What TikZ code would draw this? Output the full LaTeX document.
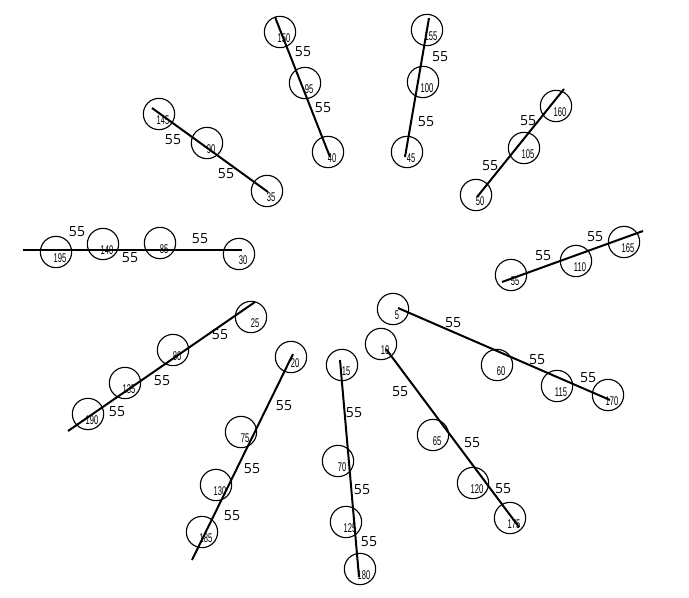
\documentclass[tikz,border=0pt]{standalone}
\usepackage{fontspec}
\setmainfont{Open Sans}
\newfontfamily\narrowfont[FakeStretch=0.6]{Liberation Sans}
\tikzset{
  ring/.style={circle, draw, line width=0.85pt, minimum size=23.5pt, inner sep=0pt},
  rod/.style={line width=1.5pt},
  num/.style={font=\narrowfont\fontsize{9.5}{9.5}\selectfont, inner sep=0pt},
  dist/.style={font=\fontsize{10.5}{12}\selectfont, inner sep=0pt}
}
\newcommand{\ringnode}[4]{\node[ring] (c#1) at (#2,#3) {};\node[num] (t#1) at (#2+4,#3+6) {#4};}
\begin{document}
\begin{tikzpicture}[x=0.75pt,y=-0.75pt]
\useasboundingbox (0,0) rectangle (689,597);
% group 5
\coordinate (a5) at (398,308); \coordinate (b5) at (610,400);
\draw[rod] (a5) -- (b5);
\ringnode{5}{393}{309}{5}\ringnode{60}{497}{365}{60}\ringnode{115}{557}{386}{115}\ringnode{170}{608}{395}{170}
\node[dist] (d5a) at (453,323) {55};\node[dist] (d5b) at (537,360) {55};\node[dist] (d5c) at (588,378) {55};
% group 10
\coordinate (a10) at (386,349); \coordinate (b10) at (519,527);
\draw[rod] (a10) -- (b10);
\ringnode{10}{381}{344}{10}\ringnode{65}{433}{435}{65}\ringnode{120}{473}{483}{120}\ringnode{175}{510}{518}{175}
\node[dist] (d10a) at (400,392) {55};\node[dist] (d10b) at (472,443) {55};\node[dist] (d10c) at (503,489) {55};
% group 15
\coordinate (a15) at (340,360); \coordinate (b15) at (359,577);
\draw[rod] (a15) -- (b15);
\ringnode{15}{342}{365}{15}\ringnode{70}{338}{461}{70}\ringnode{125}{346}{522}{125}\ringnode{180}{360}{569}{180}
\node[dist] (d15a) at (354,413) {55};\node[dist] (d15b) at (362,490) {55};\node[dist] (d15c) at (369,542) {55};
% group 20
\coordinate (a20) at (293,354); \coordinate (b20) at (192,560);
\draw[rod] (a20) -- (b20);
\ringnode{20}{291}{357}{20}\ringnode{75}{241}{432}{75}\ringnode{130}{216}{485}{130}\ringnode{185}{202}{532}{185}
\node[dist] (d20a) at (284,406) {55};\node[dist] (d20b) at (252,469) {55};\node[dist] (d20c) at (232,516) {55};
% group 25
\coordinate (a25) at (255,302); \coordinate (b25) at (68,431);
\draw[rod] (a25) -- (b25);
\ringnode{25}{251}{317}{25}\ringnode{80}{173}{350}{80}\ringnode{135}{125}{383}{135}\ringnode{190}{88}{414}{190}
\node[dist] (d25a) at (220,335) {55};\node[dist] (d25b) at (162,381) {55};\node[dist] (d25c) at (117,412) {55};
% group 30
\coordinate (a30) at (242,250); \coordinate (b30) at (23,250);
\draw[rod] (a30) -- (b30);
\ringnode{30}{239}{254}{30}\ringnode{85}{160}{243}{85}\ringnode{140}{103}{244}{140}\ringnode{195}{56}{252}{195}
\node[dist] (d30a) at (200,239) {55};\node[dist] (d30b) at (130,258) {55};\node[dist] (d30c) at (77,232) {55};
% group 35
\coordinate (a35) at (268,192); \coordinate (b35) at (152,108);
\draw[rod] (a35) -- (b35);
\ringnode{35}{267}{191}{35}\ringnode{90}{207}{143}{90}\ringnode{145}{159}{114}{145}
\node[dist] (d35a) at (226,174) {55};\node[dist] (d35b) at (173,140) {55};
% group 40
\coordinate (a40) at (330,157); \coordinate (b40) at (275,17);
\draw[rod] (a40) -- (b40);
\ringnode{40}{328}{152}{40}\ringnode{95}{305}{83}{95}\ringnode{150}{280}{32}{150}
\node[dist] (d40a) at (323,108) {55};\node[dist] (d40b) at (303,52) {55};
% group 45
\coordinate (a45) at (405,157); \coordinate (b45) at (429,18);
\draw[rod] (a45) -- (b45);
\ringnode{45}{407}{152}{45}\ringnode{100}{423}{82}{100}\ringnode{155}{427}{30}{155}
\node[dist] (d45a) at (426,122) {55};\node[dist] (d45b) at (440,57) {55};
% group 50
\coordinate (a50) at (477,197); \coordinate (b50) at (564,89);
\draw[rod] (a50) -- (b50);
\ringnode{50}{476}{195}{50}\ringnode{105}{524}{148}{105}\ringnode{160}{556}{106}{160}
\node[dist] (d50a) at (490,166) {55};\node[dist] (d50b) at (528,121) {55};
% group 55
\coordinate (a55) at (502,282); \coordinate (b55) at (643,231);
\draw[rod] (a55) -- (b55);
\ringnode{55}{511}{275}{55}\ringnode{110}{576}{261}{110}\ringnode{165}{624}{242}{165}
\node[dist] (d55a) at (543,256) {55};\node[dist] (d55b) at (595,237) {55};
\end{tikzpicture}
\end{document}
